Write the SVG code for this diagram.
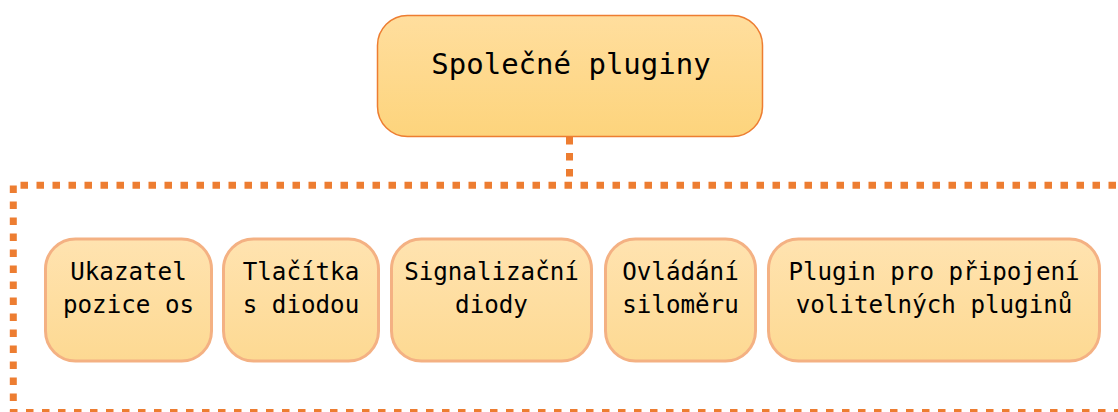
<svg xmlns="http://www.w3.org/2000/svg" width="1118" height="412" viewBox="0 0 1118 412">
  <defs>
    <linearGradient id="gradTop" x1="0" y1="0" x2="0" y2="1">
      <stop offset="0" stop-color="#FFDE9E"/>
      <stop offset="1" stop-color="#FDD47C"/>
    </linearGradient>
    <linearGradient id="gradChild" x1="0" y1="0" x2="0" y2="1">
      <stop offset="0" stop-color="#FFE3B0"/>
      <stop offset="1" stop-color="#FDD992"/>
    </linearGradient>
    <style>
      .dots { fill: none; stroke: #ED7D31; stroke-width: 7; stroke-dasharray: 7.5 8.5; }
      .root { fill: url(#gradTop); stroke: #ED7D31; stroke-width: 1.5; }
      .child { fill: url(#gradChild); stroke: #F4B183; stroke-width: 3; }
      text { font-family: "DejaVu Sans Mono", "Liberation Mono", monospace; fill: #000; text-anchor: middle; }
      .t-root { font-size: 29px; }
      .t-child { font-size: 24.2px; }
    </style>
  </defs>

  <rect width="1118" height="412" fill="#FFFFFF"/>

  <!-- dotted connector and grouping frame -->
  <g id="connectors">
    <line class="dots" x1="569.5" y1="137" x2="569.5" y2="180"/>
    <line class="dots" x1="20.5" y1="185.3" x2="1118" y2="185.3"/>
    <line class="dots" x1="13.3" y1="185.5" x2="13.3" y2="412"/>
    <line class="dots" x1="10" y1="412.5" x2="1118" y2="412.5"/>
  </g>

  <g id="node-root">
    <rect class="root" x="377.5" y="15.5" width="385" height="121" rx="30" ry="30"/>
    <text class="t-root" x="571" y="74">Společné pluginy</text>
  </g>

  <g id="node-ukazatel">
    <rect class="child" x="45.5" y="239" width="166" height="122" rx="30" ry="30"/>
    <text class="t-child" x="128.5" y="280">Ukazatel</text>
    <text class="t-child" x="128.5" y="313">pozice os</text>
  </g>

  <g id="node-tlacitka">
    <rect class="child" x="223.5" y="239" width="155" height="122" rx="30" ry="30"/>
    <text class="t-child" x="301" y="280">Tlačítka</text>
    <text class="t-child" x="301" y="313">s diodou</text>
  </g>

  <g id="node-signalizacni">
    <rect class="child" x="391.5" y="239" width="200" height="122" rx="30" ry="30"/>
    <text class="t-child" x="491.5" y="280">Signalizační</text>
    <text class="t-child" x="491.5" y="313">diody</text>
  </g>

  <g id="node-ovladani">
    <rect class="child" x="605.5" y="239" width="150" height="122" rx="30" ry="30"/>
    <text class="t-child" x="680.5" y="280">Ovládání</text>
    <text class="t-child" x="680.5" y="313">siloměru</text>
  </g>

  <g id="node-plugin">
    <rect class="child" x="768.5" y="239" width="331" height="122" rx="30" ry="30"/>
    <text class="t-child" x="934" y="280">Plugin pro připojení</text>
    <text class="t-child" x="934" y="313">volitelných pluginů</text>
  </g>
</svg>
